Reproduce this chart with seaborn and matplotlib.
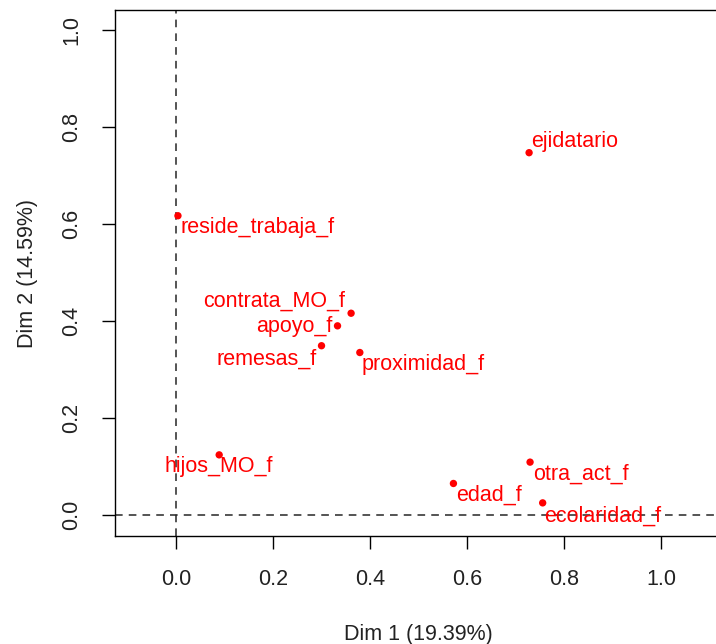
import matplotlib
matplotlib.use("Agg")
import matplotlib.pyplot as plt
import seaborn as sns
import pandas as pd

# ---- data ----
variables = ["ejidatario", "reside_trabaja_f", "contrata_MO_f", "apoyo_f",
             "remesas_f", "proximidad_f", "hijos_MO_f", "edad_f",
             "otra_act_f", "ecolaridad_f"]
dim1 = [0.728, 0.004, 0.361, 0.333, 0.300, 0.379, 0.089, 0.572, 0.730, 0.756]
dim2 = [0.747, 0.617, 0.416, 0.390, 0.349, 0.335, 0.124, 0.065, 0.109, 0.025]
xticks = [0.0, 0.2, 0.4, 0.6, 0.8, 1.0]
yticks = [0.0, 0.2, 0.4, 0.6, 0.8, 1.0]
xlabel = "Dim 1 (19.39%)"
ylabel = "Dim 2 (14.59%)"

df = pd.DataFrame({"var": variables, "Dim1": dim1, "Dim2": dim2})

# label placement (pixel offsets, alignment)
label_pos = {
    "ejidatario": (2, 11, "left"),
    "reside_trabaja_f": (3, -12, "left"),
    "contrata_MO_f": (-6, 12, "right"),
    "apoyo_f": (-5, -1, "right"),
    "remesas_f": (-5, -13, "right"),
    "proximidad_f": (2, -12, "left"),
    "hijos_MO_f": (0, -12, "center"),
    "edad_f": (3, -12, "left"),
    "otra_act_f": (3, -12, "left"),
    "ecolaridad_f": (1, -13, "left"),
}

sns.set_style("white")
plt.rcParams["font.family"] = ["Liberation Sans", "DejaVu Sans"]

W, H = 716, 644
fig = plt.figure(figsize=(W / 100, H / 100), dpi=100)
left_px, right_px, top_px, bottom_px = 115, 722, 10, 536
ax = fig.add_axes([left_px / W, 1 - bottom_px / H,
                   (right_px - left_px) / W, (bottom_px - top_px) / H])

ax.axhline(0, color="0.15", lw=1.1, ls=(0, (5, 4)), zorder=1)
ax.axvline(0, color="0.15", lw=1.1, ls=(0, (5, 4)), zorder=1)

sns.scatterplot(data=df, x="Dim1", y="Dim2", ax=ax, color="#ff0000",
                s=28, edgecolor="none", zorder=3, legend=False)

for v, x, y in zip(variables, dim1, dim2):
    dx, dy, ha = label_pos[v]
    ax.annotate(v, (x, y), xytext=(dx, dy), textcoords="offset pixels",
                ha=ha, va="center", color="#ff0000", fontsize=15.5, zorder=4)

ax.set_xlim(-0.1258, -0.1258 + (right_px - left_px) / 485)
ax.set_ylim(-0.0433, 1.0412)
ax.set_xticks(xticks)
ax.set_yticks(yticks)
ax.set_xticklabels([f"{t:.1f}" for t in xticks])
ax.set_yticklabels([f"{t:.1f}" for t in yticks], rotation=90, va="center")
ax.tick_params(axis="both", direction="out", length=9.5, width=1,
               color="black", labelsize=15.5, pad=14, labelcolor="#222222",
               bottom=True, left=True)
for sp in ax.spines.values():
    sp.set_color("black")
    sp.set_linewidth(1)
ax.spines["right"].set_visible(False)

ax.set_xlabel(xlabel, fontsize=15.5, labelpad=25, color="#222222")
ax.set_ylabel(ylabel, fontsize=15.5, labelpad=17, color="#222222")

fig.savefig("out.png", dpi=100)
